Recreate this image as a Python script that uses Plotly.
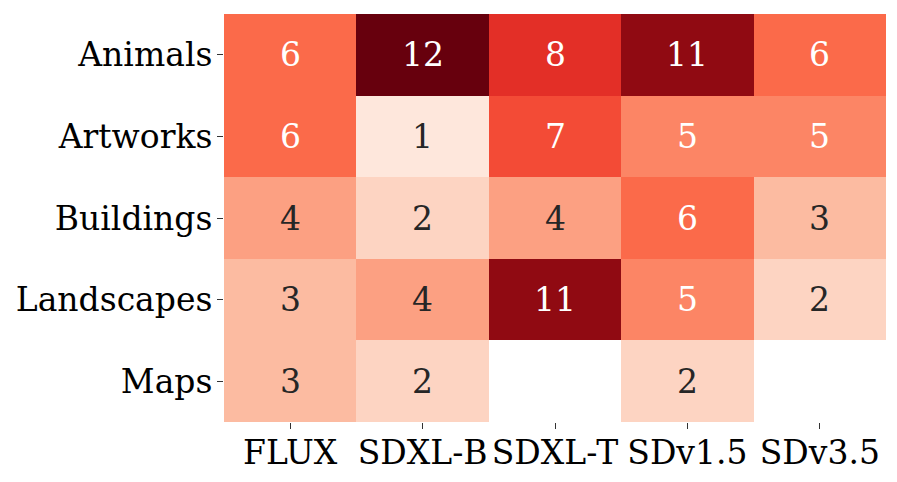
import plotly.graph_objects as go
import plotly.express as px

models = ["FLUX", "SDXL-B", "SDXL-T", "SDv1.5", "SDv3.5"]
categories = ["Animals", "Artworks", "Buildings", "Landscapes", "Maps"]

animals = [6, 12, 8, 11, 6]
artworks = [6, 1, 7, 5, 5]
buildings = [4, 2, 4, 6, 3]
landscapes = [3, 4, 11, 5, 2]
maps = [3, 2, None, 2, None]

z = [animals, artworks, buildings, landscapes, maps]

FONT = "DejaVu Serif"
FS = 33

fig = go.Figure(go.Heatmap(
    z=z, x=models, y=categories,
    colorscale=px.colors.sequential.Reds, zmin=0, zmax=12,
    showscale=False, hoverongaps=False,
))

# cell labels, white on dark cells like seaborn does
for i, row in enumerate(z):
    for j, v in enumerate(row):
        if v is None:
            continue
        fig.add_annotation(x=models[j], y=categories[i], text=str(v), showarrow=False,
                           font=dict(family=FONT, size=FS, color="white" if v >= 5 else "#262626"))

fig.update_xaxes(showgrid=False, zeroline=False, ticks="outside", ticklen=6, tickcolor="#333",
                 automargin=False, ticklabelstandoff=-5,
                 tickfont=dict(family=FONT, size=FS, color="black"))
fig.update_yaxes(showgrid=False, zeroline=False, autorange="reversed", ticks="outside", ticklen=6,
                 automargin=False, ticklabelstandoff=-2, tickcolor="#333",
                 tickfont=dict(family=FONT, size=FS, color="black"))

# page body has an 8px margin, so shrink the figure to fit the window
fig.update_layout(
    width=881, height=466,
    margin=dict(l=216, r=3, t=6, b=52),
    plot_bgcolor="white", paper_bgcolor="white",
    font=dict(family=FONT),
)

fig.write_html("out.html")
